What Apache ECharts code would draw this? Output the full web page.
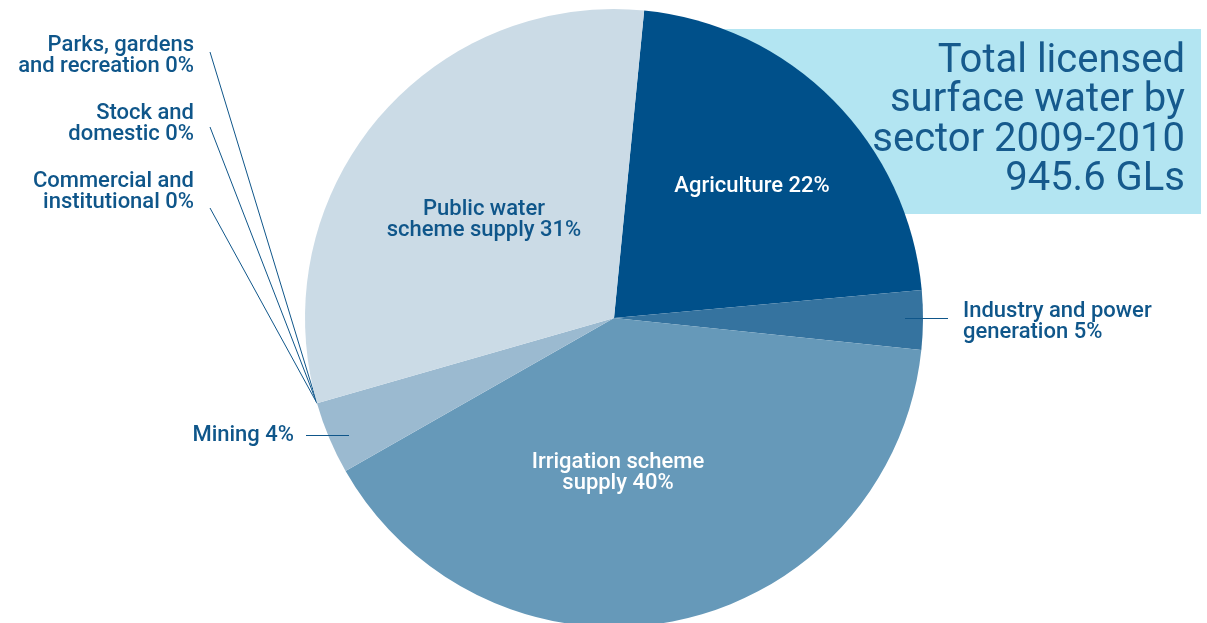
<!DOCTYPE html>
<html>
<head>
<meta charset="utf-8">
<script src="https://cdn.jsdelivr.net/npm/echarts@6/dist/echarts.min.js"></script>
<style>
  html, body { margin: 0; padding: 0; background: #fff; }
  #chart { width: 1207px; height: 623px; }
</style>
</head>
<body>
<div id="chart"></div>
<script>
// sectors in clockwise order, starting at Agriculture
var sectors = ['Agriculture', 'Industry and power generation', 'Irrigation scheme supply', 'Mining',
  'Commercial and institutional', 'Stock and domestic', 'Parks, gardens and recreation', 'Public water scheme supply'];
// share of licensed volume, %
var shares = [22, 3.1, 40.1, 3.8, 0, 0, 0, 31];
// label texts as printed
var labels = ['Agriculture 22%', 'Industry and power\ngeneration 5%', 'Irrigation scheme\nsupply 40%', 'Mining 4%',
  'Commercial and\ninstitutional 0%', 'Stock and\ndomestic 0%', 'Parks, gardens\nand recreation 0%', 'Public water\nscheme supply 31%'];
var colors = ['#00508a', '#35739f', '#6699b9', '#9bbad0', '#9bbad0', '#9bbad0', '#9bbad0', '#cbdbe6'];

var titleLines = ['Total licensed', 'surface water by', 'sector 2009-2010', '945.6 GLs'];

// where each label sits: [x, y, align, line end x, line end y]
var labelPos = [
  [752, 186, 'center'],
  [963, 322, 'left'],
  [618, 473, 'center'],
  [294, 435, 'right'],
  [194, 192, 'right', 210, 208],
  [194, 124, 'right', 210, 127],
  [194, 56, 'right', 210, 52],
  [484, 220, 'center']
];

var textBlue = '#0f568a';
var chart = echarts.init(document.getElementById('chart'));

var data = sectors.map(function (name, i) {
  return {
    name: name,
    value: shares[i],
    itemStyle: { color: colors[i] },
    label: {
      show: true,
      formatter: labels[i],
      color: (i === 0 || i === 2) ? '#ffffff' : textBlue
    },
    labelLine: { show: i >= 4 && i <= 6, lineStyle: { color: textBlue, width: 1 } }
  };
});

// short leaders for Mining and Industry reach into their slices, so they sit on top
function leader(x1, x2, y) {
  return {
    type: 'line', z: 100,
    shape: { x1: x1, y1: y, x2: x2, y2: y },
    style: { stroke: textBlue, lineWidth: 1.2 }
  };
}

chart.setOption({
  animation: false,
  graphic: [
    {
      type: 'rect',
      z: -10,
      shape: { x: 720, y: 29, width: 481, height: 185 },
      style: { fill: '#b3e5f2' }
    },
    {
      type: 'text',
      z: 10,
      x: 1185,
      y: 42,
      style: {
        text: titleLines.join('\n'),
        fill: '#165a8d',
        font: '40px Roboto',
        lineHeight: 39.5,
        align: 'right',
        verticalAlign: 'top'
      }
    },
    leader(905, 948, 318.5),
    leader(306, 349, 435.5)
  ],
  series: [{
    type: 'pie',
    center: [614, 318],
    radius: 309,
    startAngle: 84.4,
    clockwise: true,
    avoidLabelOverlap: false,
    silent: true,
    itemStyle: { borderWidth: 0 },
    label: {
      position: 'outside',
      fontFamily: 'Roboto',
      fontWeight: 500,
      fontSize: 22,
      lineHeight: 21
    },
    labelLine: {
      lineStyle: { color: textBlue, width: 1 }
    },
    labelLayout: function (params) {
      var p = labelPos[params.dataIndex];
      var out = { x: p[0], y: p[1], align: p[2], verticalAlign: 'middle' };
      if (p.length > 3 && params.labelLinePoints) {
        out.labelLinePoints = [params.labelLinePoints[0], [p[3], p[4]]];
      }
      return out;
    },
    data: data
  }]
});
</script>
</body>
</html>
